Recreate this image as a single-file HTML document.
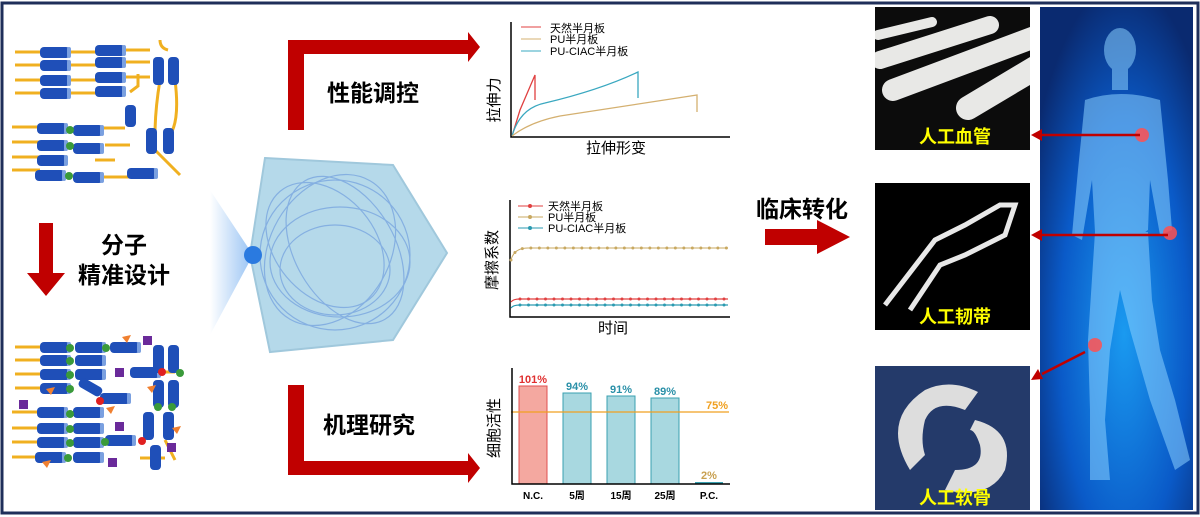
<!DOCTYPE html><html><head><meta charset="utf-8"><style>
body{margin:0;background:#fff}svg{display:block}
text{font-family:"Liberation Sans","Noto Sans CJK SC",sans-serif}
.s{font-family:"Liberation Serif","Noto Serif CJK SC",serif}
</style></head><body>
<svg width="1200" height="517" viewBox="0 0 1200 517">
<defs>
<radialGradient id="bd" cx=".55" cy=".65" r=".7"><stop offset="0" stop-color="#1a9af0"/><stop offset=".6" stop-color="#0a5ac8"/><stop offset="1" stop-color="#0a2a70"/></radialGradient>
<linearGradient id="cone" x1="0" x2="1"><stop offset="0" stop-color="#fff"/><stop offset="1" stop-color="#6aa8ee"/></linearGradient>
<clipPath id="c1"><rect x="875" y="7" width="155" height="143"/></clipPath>
<g id="cyl"><rect x="0" y="-5" width="30" height="11" rx="4" fill="#1f4fb8"/><rect x="27" y="-5" width="4" height="11" rx="2" fill="#7aa0e0"/></g>
</defs>
<rect x="2" y="3" width="1196" height="510" fill="none" stroke="#1f2f5a" stroke-width="3"/>
<g stroke="#f0b020" stroke-width="3" fill="none">
<path d="M15 52h30M15 65h30M15 80h30M15 93h30M70 52h30M70 65h30M70 80h30M70 93h30M125 50h25M125 62h25M125 77h25M130 92l8-6v-12M12 127h28M12 142h28M12 157h28M12 170h28M100 128h25M105 145h25M95 160h20M102 177h30M155 150q10 10 25 25M160 80q-5 30-5 55M175 80q5 40 -5 55M160 40q0 8 8 10"/>
<path d="M15 347h30M15 360h30M15 374h30M15 388h30M12 412h28M12 428h28M12 442h28M12 457h28M145 372h30M140 458h25M165 440l10 20"/>
</g>
<g>
<use href="#cyl" x="40" y="52"/><use href="#cyl" x="40" y="65"/><use href="#cyl" x="40" y="80"/><use href="#cyl" x="40" y="93"/>
<use href="#cyl" x="95" y="50"/><use href="#cyl" x="95" y="62"/><use href="#cyl" x="95" y="77"/><use href="#cyl" x="95" y="91"/>
<rect x="153" y="57" width="11" height="28" rx="4" fill="#1f4fb8"/><rect x="168" y="57" width="11" height="28" rx="4" fill="#1f4fb8"/>
<rect x="125" y="105" width="11" height="22" rx="4" fill="#1f4fb8"/>
<rect x="146" y="128" width="11" height="26" rx="4" fill="#1f4fb8"/><rect x="163" y="128" width="11" height="26" rx="4" fill="#1f4fb8"/>
<use href="#cyl" x="37" y="128"/><use href="#cyl" x="37" y="145"/><use href="#cyl" x="37" y="160"/><use href="#cyl" x="35" y="175"/>
<use href="#cyl" x="73" y="130"/><use href="#cyl" x="73" y="148"/><use href="#cyl" x="73" y="177"/><use href="#cyl" x="127" y="173"/>
<circle cx="70" cy="130" r="4" fill="#3a9a3a"/><circle cx="70" cy="146" r="4" fill="#3a9a3a"/><circle cx="69" cy="176" r="4" fill="#3a9a3a"/>
<use href="#cyl" x="40" y="347"/><use href="#cyl" x="40" y="360"/><use href="#cyl" x="40" y="374"/><use href="#cyl" x="40" y="388"/>
<use href="#cyl" x="75" y="347"/><use href="#cyl" x="75" y="360"/><use href="#cyl" x="75" y="374"/><use href="#cyl" x="110" y="347"/><use href="#cyl" x="130" y="372"/>
<use href="#cyl" x="37" y="412"/><use href="#cyl" x="37" y="428"/><use href="#cyl" x="37" y="442"/><use href="#cyl" x="35" y="457"/>
<use href="#cyl" x="73" y="412"/><use href="#cyl" x="73" y="428"/><use href="#cyl" x="73" y="442"/><use href="#cyl" x="73" y="457"/><use href="#cyl" x="105" y="440"/><use href="#cyl" x="100" y="398"/>
<rect x="153" y="345" width="11" height="28" rx="4" fill="#1f4fb8"/><rect x="168" y="345" width="11" height="28" rx="4" fill="#1f4fb8"/>
<rect x="153" y="380" width="11" height="28" rx="4" fill="#1f4fb8"/><rect x="168" y="380" width="11" height="28" rx="4" fill="#1f4fb8"/>
<rect x="143" y="412" width="11" height="28" rx="4" fill="#1f4fb8"/><rect x="163" y="412" width="11" height="28" rx="4" fill="#1f4fb8"/>
<rect x="150" y="445" width="11" height="25" rx="4" fill="#1f4fb8"/><rect x="78" y="382" width="25" height="10" rx="4" fill="#1f4fb8" transform="rotate(30 90 387)"/>
<g fill="#3a9a3a"><circle cx="70" cy="348" r="4"/><circle cx="70" cy="361" r="4"/><circle cx="70" cy="375" r="4"/><circle cx="70" cy="389" r="4"/><circle cx="70" cy="414" r="4"/><circle cx="70" cy="429" r="4"/><circle cx="70" cy="443" r="4"/><circle cx="68" cy="458" r="4"/><circle cx="106" cy="348" r="4"/><circle cx="105" cy="442" r="4"/><circle cx="158" cy="407" r="4"/><circle cx="172" cy="407" r="4"/><circle cx="180" cy="373" r="4"/></g>
<g fill="#e02020"><circle cx="162" cy="372" r="4"/><circle cx="100" cy="401" r="4"/><circle cx="142" cy="441" r="4"/></g>
<g fill="#6a2a9a"><rect x="143" y="336" width="9" height="9"/><rect x="115" y="368" width="9" height="9"/><rect x="19" y="400" width="9" height="9"/><rect x="115" y="422" width="9" height="9"/><rect x="167" y="443" width="9" height="9"/><rect x="108" y="458" width="9" height="9"/></g>
<g fill="#f08030"><path d="M122 337l9-2-4 8z"/><path d="M46 389l9-2-4 8z"/><path d="M106 408l9-2-4 8z"/><path d="M147 387l9-2-4 8z"/><path d="M172 428l9-2-4 8z"/><path d="M42 462l9-2-4 8z"/></g>
</g>
<path d="M39 223h14v50h12l-19 23-19-23h12z" fill="#c00000"/>
<text x="124" y="253" font-size="23" font-weight="bold" text-anchor="middle">分子</text>
<text x="124" y="283" font-size="23" font-weight="bold" text-anchor="middle">精准设计</text>
<path d="M210 190L253 255 210 335z" fill="url(#cone)" opacity=".7"/>
<path d="M265 158L393 165 447 253 393 340 270 352 250 255z" fill="#b5d9ea"/>
<path d="M265 158L393 165 447 253 393 340 270 352 250 255z" fill="none" stroke="#a0c8dc" stroke-width="2"/>
<g fill="none" stroke="#7aa6e0" stroke-width="1.2" opacity=".8">
<ellipse cx="335" cy="255" rx="75" ry="75"/><ellipse cx="330" cy="250" rx="60" ry="80" transform="rotate(30 330 250)"/><ellipse cx="340" cy="262" rx="70" ry="55"/><ellipse cx="325" cy="245" rx="50" ry="70" transform="rotate(-40 325 245)"/><ellipse cx="345" cy="250" rx="80" ry="50" transform="rotate(60 345 250)"/><ellipse cx="335" cy="270" rx="55" ry="45"/></g>
<circle cx="253" cy="255" r="9" fill="#2a7ae0"/>
<path d="M288 40h180v-8l12 15-12 15v-8h-164v76h-16z" fill="#c00000"/>
<path d="M288 385h16v76h164v-8l12 15-12 15v-8h-180z" fill="#c00000"/>
<text x="327" y="101" font-size="23" font-weight="bold">性能调控</text>
<text x="323" y="433" font-size="23" font-weight="bold">机理研究</text>
<g class="s" font-size="11">
<path d="M511 22V137H730" stroke="#000" stroke-width="1.5" fill="none"/>
<path d="M521 27h20" stroke="#e04040"/><text x="550" y="32">天然半月板</text>
<path d="M521 39h20" stroke="#d4b070"/><text x="550" y="43">PU半月板</text>
<path d="M521 51h20" stroke="#3aa8c0"/><text x="550" y="55">PU-CIAC半月板</text>
<path d="M512 136L520 110 535 75V100" stroke="#e04040" fill="none" stroke-width="1.3"/>
<path d="M512 136Q520 108 545 103Q600 90 638 72V98" stroke="#3aa8c0" fill="none" stroke-width="1.3"/>
<path d="M512 136Q530 122 560 116L697 95V112" stroke="#d4b070" fill="none" stroke-width="1.3"/>
<text x="499" y="100" font-size="15" transform="rotate(-90 499 100)" text-anchor="middle">拉伸力</text>
<text x="616" y="153" font-size="15" text-anchor="middle">拉伸形变</text>
</g>
<g class="s" font-size="11">
<path d="M510 200V317H730" stroke="#000" stroke-width="1.5" fill="none"/>
<path d="M518 206h25" stroke="#e04040"/><circle cx="530" cy="206" r="2" fill="#e04040"/><text x="548" y="210">天然半月板</text>
<path d="M518 217h25" stroke="#c8a860"/><circle cx="530" cy="217" r="2" fill="#c8a860"/><text x="548" y="221">PU半月板</text>
<path d="M518 228h25" stroke="#2a9ab0"/><circle cx="530" cy="228" r="2" fill="#2a9ab0"/><text x="548" y="232">PU-CIAC半月板</text>
<path d="M511 260Q514 248 528 248H728" stroke="#c8a860" fill="none" stroke-width="3" stroke-dasharray="0 8.5" stroke-linecap="round"/>
<path d="M511 260Q514 248 528 248H728" stroke="#c8a860" fill="none" stroke-width="1"/>
<path d="M511 302Q513 299 520 299H728" stroke="#e04040" fill="none" stroke-width="1.3"/>
<path d="M520 299H728" stroke="#e04040" stroke-width="3" stroke-dasharray="0 8.5" stroke-linecap="round"/>
<path d="M511 308Q513 305 520 305H728" stroke="#2a9ab0" fill="none" stroke-width="1.3"/>
<path d="M520 305H728" stroke="#2a9ab0" stroke-width="3" stroke-dasharray="0 8.5" stroke-linecap="round"/>
<text x="497" y="260" font-size="15" transform="rotate(-90 497 260)" text-anchor="middle">摩擦系数</text>
<text x="613" y="333" font-size="15" text-anchor="middle">时间</text>
</g>
<g class="s">
<rect x="519" y="386" width="28" height="98" fill="#f4a8a0" stroke="#e05050"/>
<rect x="563" y="393" width="28" height="91" fill="#a8d8e0" stroke="#3aa0b0"/>
<rect x="607" y="396" width="28" height="88" fill="#a8d8e0" stroke="#3aa0b0"/>
<rect x="651" y="398" width="28" height="86" fill="#a8d8e0" stroke="#3aa0b0"/>
<rect x="695" y="482" width="28" height="2" fill="#3aa0b0"/>
<path d="M511 412H729" stroke="#f0a020" stroke-width="1.3"/>
<path d="M512 368V484H730" stroke="#000" stroke-width="1.5" fill="none"/>
<g font-size="11" font-weight="bold" text-anchor="middle">
<text x="533" y="383" fill="#e03030">101%</text><text x="577" y="390" fill="#2a90a8">94%</text><text x="621" y="393" fill="#2a90a8">91%</text><text x="665" y="395" fill="#2a90a8">89%</text><text x="709" y="479" fill="#c8a050">2%</text><text x="717" y="409" fill="#f0a020">75%</text>
<text x="533" y="499" font-size="10">N.C.</text><text x="577" y="499" font-size="10">5周</text><text x="621" y="499" font-size="10">15周</text><text x="665" y="499" font-size="10">25周</text><text x="709" y="499" font-size="10">P.C.</text></g>
<text x="499" y="428" font-size="15" transform="rotate(-90 499 428)" text-anchor="middle">细胞活性</text>
</g>
<text x="802" y="217" font-size="23" font-weight="bold" text-anchor="middle">临床转化</text>
<path d="M765 229h52v-9l33 17-33 17v-9h-52z" fill="#c00000"/>
<rect x="875" y="7" width="155" height="143" fill="#0c0c0c"/>
<g stroke="#e8e8e6" stroke-linecap="round" clip-path="url(#c1)"><path d="M878 35L932 22" stroke-width="10"/><path d="M880 60L990 25" stroke-width="18"/><path d="M893 90L1040 35" stroke-width="22"/><path d="M968 108L1040 65" stroke-width="24"/></g>
<rect x="875" y="183" width="155" height="147" fill="#000"/>
<path d="M885 305L935 240 965 225 1000 205 1015 205 1010 220 1005 235 965 255 940 265 910 310" fill="none" stroke="#e8e8e8" stroke-width="5"/>
<rect x="875" y="366" width="155" height="144" fill="#243a6a"/>
<path d="M910 470Q880 420 925 390Q950 378 978 392L965 410Q935 398 925 420Q920 440 925 455z" fill="#ddd"/>
<path d="M975 420Q1015 430 1005 470Q990 500 945 490L955 470Q985 470 980 445Q975 430 970 430z" fill="#ddd"/>
<g font-size="18" font-weight="bold" fill="#ffff00" text-anchor="middle"><text x="955" y="143">人工血管</text><text x="955" y="323">人工韧带</text><text x="955" y="504">人工软骨</text></g>
<rect x="1040" y="7" width="153" height="503" fill="url(#bd)"/>
<g fill="#8ad0ff" opacity=".55">
<ellipse cx="1120" cy="50" rx="16" ry="22"/><rect x="1112" y="68" width="16" height="22"/>
<path d="M1085 100Q1120 88 1160 100L1168 180 1172 230 1160 235 1150 180 1148 230 1120 250 1095 232 1092 180 1082 240 1072 235 1078 170z"/>
<path d="M1095 232L1148 232 1152 300 1160 350 1175 400 1190 460 1175 470 1150 400 1130 330 1120 290 1110 350 1105 420 1110 480 1090 480 1090 410 1088 340z"/>
</g>
<g fill="#ff5050" opacity=".85"><circle cx="1142" cy="135" r="7"/><circle cx="1170" cy="233" r="7"/><circle cx="1095" cy="345" r="7"/></g>
<g stroke="#c00000" stroke-width="2.5"><path d="M1140 135H1040"/><path d="M1168 235H1040"/><path d="M1085 352L1042 374"/></g>
<g fill="#c00000"><path d="M1031 135l11-6v12z"/><path d="M1031 235l11-6v12z"/><path d="M1031 380l7-11 5 10z"/></g>
</svg></body></html>
